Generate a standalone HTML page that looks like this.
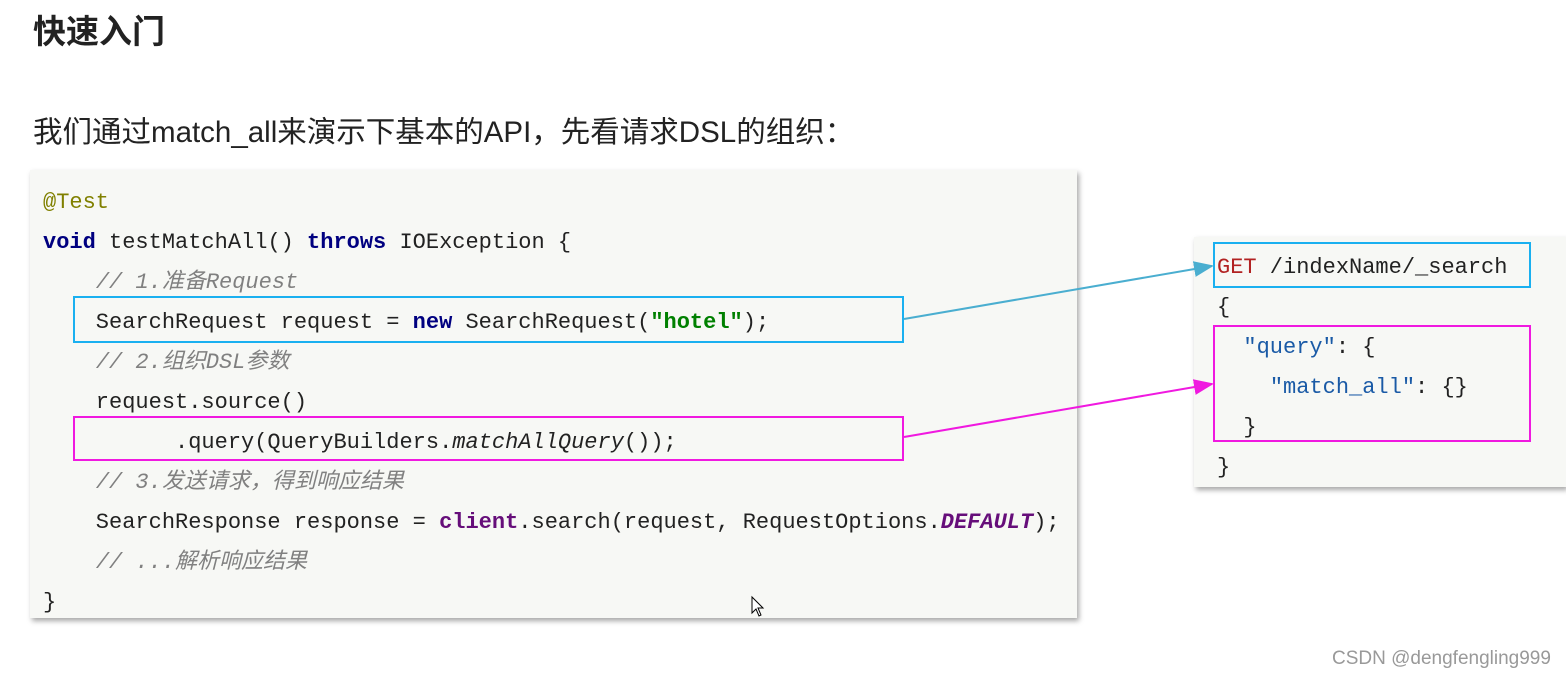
<!DOCTYPE html>
<html><head><meta charset="utf-8"><style>
body{margin:0;width:1566px;height:680px;background:#fff;position:relative;overflow:hidden;font-family:"Liberation Sans","Noto Sans CJK SC",sans-serif}
.t{position:absolute;white-space:pre}
.code{font-family:"Liberation Mono","Noto Sans CJK SC",monospace;font-size:22px;line-height:40px;color:#222}
.box{position:absolute;background:#f7f8f5;box-shadow:2px 3px 5px rgba(0,0,0,.35)}
.kw{color:#000080;font-weight:bold}
.cm{color:#808080;font-style:italic}
.an{color:#808000}
.st{color:#008000;font-weight:bold}
.pu{color:#660e7a;font-weight:bold}
.fr{position:absolute;box-sizing:border-box;border:2px solid}
</style></head><body>
<div class="t" style="left:33px;top:9px;font-size:33px;font-weight:bold;color:#222;line-height:46px">快速入门</div>
<div class="t" style="left:33px;top:113px;font-size:29.5px;color:#222;line-height:40px">我们通过match_all来演示下基本的API，先看请求DSL的组织：</div>

<div class="box" style="left:30px;top:170px;width:1047px;height:448px"></div>
<div class="code t" style="left:43px;top:183px"><span class="an">@Test</span>
<span class="kw">void</span> testMatchAll() <span class="kw">throws</span> IOException {
    <span class="cm">// 1.准备Request</span>
    SearchRequest request = <span class="kw">new</span> SearchRequest(<span class="st">"hotel"</span>);
    <span class="cm">// 2.组织DSL参数</span>
    request.source()
          .query(QueryBuilders.<i>matchAllQuery</i>());
    <span class="cm">// 3.发送请求，得到响应结果</span>
    SearchResponse response = <span class="pu">client</span>.search(request, RequestOptions.<i class="pu">DEFAULT</i>);
    <span class="cm">// ...解析响应结果</span>
}</div>
<div class="fr" style="left:73px;top:296px;width:831px;height:47px;border-color:#1ab0f0"></div>
<div class="fr" style="left:73px;top:416px;width:831px;height:45px;border-color:#f019e0"></div>

<div class="box" style="left:1194px;top:237px;width:372px;height:250px"></div>
<div class="code t" style="left:1217px;top:248px;font-size:22px;line-height:40px"><span style="color:#b22222">GET</span> /indexName/_search
{
  <span style="color:#1a5aa6">"query"</span>: {
    <span style="color:#1a5aa6">"match_all"</span>: {}
  }
}</div>
<div class="fr" style="left:1213px;top:242px;width:318px;height:46px;border-color:#1ab0f0"></div>
<div class="fr" style="left:1213px;top:325px;width:318px;height:117px;border-color:#f019e0"></div>

<svg style="position:absolute;left:0;top:0" width="1566" height="680">
<defs>
<marker id="a1" markerWidth="10" markerHeight="8" refX="9" refY="4" orient="auto"><path d="M0,0L10,4L0,8z" fill="#4aaed0"/></marker>
<marker id="a2" markerWidth="10" markerHeight="8" refX="9" refY="4" orient="auto"><path d="M0,0L10,4L0,8z" fill="#f019e0"/></marker>
</defs>
<line x1="904" y1="319" x2="1212" y2="266" stroke="#4aaed0" stroke-width="2" marker-end="url(#a1)"/>
<line x1="904" y1="437" x2="1212" y2="384" stroke="#f019e0" stroke-width="2" marker-end="url(#a2)"/>
<path d="M752,597 L752,613 L756,609 L759,616 L761,615 L758,608 L763,608 Z" fill="#fff" stroke="#000" stroke-width="1"/>
</svg>
<div class="t" style="left:1332px;top:648px;font-size:19px;color:#999">CSDN @dengfengling999</div>
</body></html>
